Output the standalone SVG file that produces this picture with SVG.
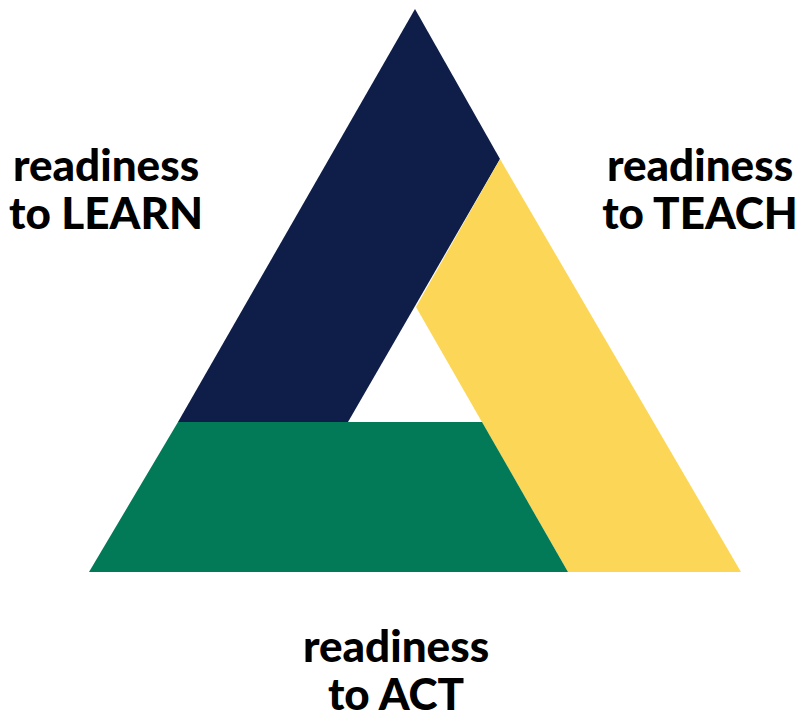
<svg xmlns="http://www.w3.org/2000/svg" width="799" height="723" viewBox="0 0 799 723">
<style>
.lbl{font-family:Lato,"Open Sans","Liberation Sans",sans-serif;font-weight:900;font-size:44px;fill:#000;text-anchor:middle}
</style>
<rect width="799" height="723" fill="#fff"/>
<g id="learn"><polygon points="415,9 500,159 348,422 178,422" fill="#0F1E48"/></g>
<g id="teach"><polygon points="500,159 741,572 568,572 416,307" fill="#FCD757"/></g>
<g id="act"><polygon points="178,422 482,422 568,572 89,572" fill="#037A57"/></g>
<g id="connectors"></g>
<g id="label-learn"><text class="lbl" x="106" y="181">readiness</text><text class="lbl" x="106" y="229">to LEARN</text></g>
<g id="label-teach"><text class="lbl" x="700" y="181">readiness</text><text class="lbl" x="700" y="229">to TEACH</text></g>
<g id="label-act"><text class="lbl" x="396" y="662">readiness</text><text class="lbl" x="396" y="710">to ACT</text></g>
</svg>
